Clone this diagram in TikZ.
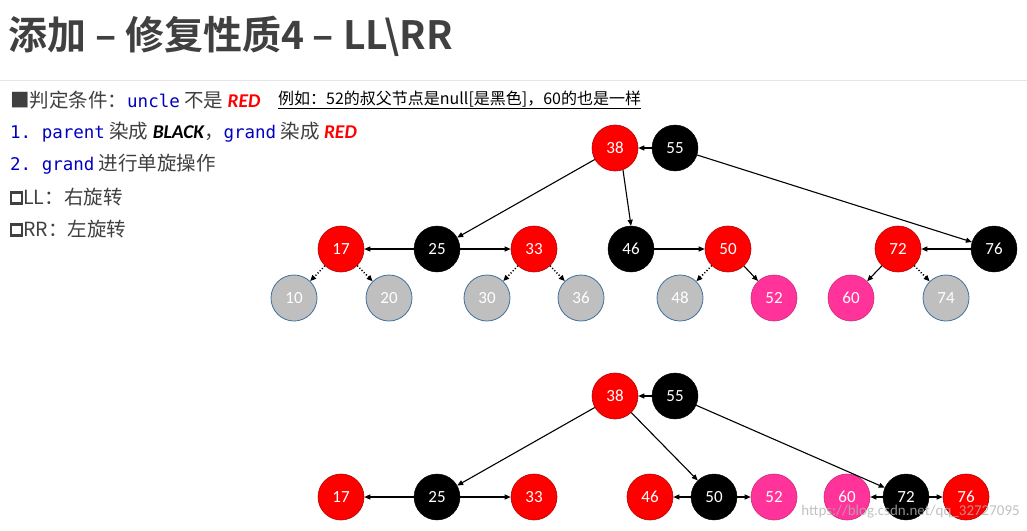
\documentclass[tikz,border=0pt]{standalone}
\usepackage{fontspec}
\setmainfont{Carlito}
\newfontfamily\cjk{Noto Sans CJK SC}
\newfontfamily\cjkb{Noto Sans CJK SC}[BoldFont={* Bold}]
\setmonofont{DejaVu Sans Mono}
\usetikzlibrary{arrows.meta}
\definecolor{txt}{HTML}{404040}
\definecolor{codeblue}{HTML}{0000C0}
\definecolor{pinkn}{HTML}{FF3399}
\definecolor{grayn}{HTML}{BFBFBF}
\definecolor{grayb}{HTML}{41719C}
\begin{document}
\begin{tikzpicture}[x=1pt,y=-1pt,
  nd/.style={circle,minimum size=46pt,inner sep=0pt,font=\fontsize{17}{17}\selectfont,text=white},
  rn/.style={nd,fill=red,draw=red!70!black,line width=0.6pt},
  bn/.style={nd,fill=black,draw=black},
  pn/.style={nd,fill=pinkn,draw=pinkn!80!black,line width=0.6pt},
  gn/.style={nd,fill=grayn,draw=grayb,line width=0.8pt},
  ar/.style={-{Triangle[length=6pt,width=5pt]},line width=1.1pt},
  dt/.style={ar,dotted,line width=1.5pt},
  tl/.style={anchor=west,inner sep=0pt,font=\cjk\fontsize{19.5}{19.5}\selectfont,text=txt},
  cd/.style={}]
\useasboundingbox (0,0) rectangle (1027,530);
\fill[white] (0,0) rectangle (1027,530);
\draw[gray!20,line width=1pt] (0,80) -- (1027,80);
\node[anchor=west,inner sep=0pt,text=txt] (title) at (8,36) {\cjkb\bfseries\fontsize{39}{39}\selectfont 添加 – 修复性质4 – LL\textbackslash RR};
\node[tl] (l1) at (10,100) {■判定条件：\textcolor{codeblue}{\ttfamily\fontsize{17.5}{17.5}\selectfont uncle} 不是 \textcolor{red}{\fontspec{Carlito}\bfseries\itshape RED}};
\node[anchor=west,inner sep=0pt,font=\cjk\fontsize{16}{16}\selectfont] (note) at (278,100) {\underline{例如：52的叔父节点是null[是黑色]，60的也是一样}};
\node[tl] (l2) at (10,132) {\textcolor{codeblue}{\ttfamily\fontsize{17.5}{17.5}\selectfont 1. parent} 染成 \textcolor{black}{\fontspec{Carlito}\bfseries\itshape BLACK}，\textcolor{codeblue}{\ttfamily\fontsize{17.5}{17.5}\selectfont grand} 染成 \textcolor{red}{\fontspec{Carlito}\bfseries\itshape RED}};
\node[tl] (l3) at (10,164) {\textcolor{codeblue}{\ttfamily\fontsize{17.5}{17.5}\selectfont 2. grand} 进行单旋操作};
\node[tl] (l4) at (10,197) {\tikz[baseline=-1pt]\draw[txt,line width=2.2pt](0,0) rectangle (11pt,11pt);LL：右旋转};
\node[tl] (l5) at (10,229) {\tikz[baseline=-1pt]\draw[txt,line width=2.2pt](0,0) rectangle (11pt,11pt);RR：左旋转};
% top tree
\node[rn] (a38) at (615,148) {38};
\node[bn] (a55) at (675,148) {55};
\node[rn] (a17) at (341,249) {17};
\node[bn] (a25) at (437,249) {25};
\node[rn] (a33) at (534,249) {33};
\node[bn] (a46) at (631,249) {46};
\node[rn] (a50) at (728,249) {50};
\node[rn] (a72) at (898,249) {72};
\node[bn] (a76) at (994,249) {76};
\node[gn] (a10) at (294,298) {10};
\node[gn] (a20) at (389,298) {20};
\node[gn] (a30) at (487,298) {30};
\node[gn] (a36) at (581,298) {36};
\node[gn] (a48) at (680,298) {48};
\node[pn] (a52) at (774,298) {52};
\node[pn] (a60) at (851,298) {60};
\node[gn] (a74) at (946,298) {74};
\draw[ar] (a55)--(a38);
\draw[ar] (a38)--(a25);
\draw[ar] (a38.-70)--(a46.north);
\draw[ar] (a55)--(a76);
\draw[ar] (a25)--(a17);
\draw[ar] (a25)--(a33);
\draw[ar] (a46)--(a50);
\draw[ar] (a50)--(a52);
\draw[ar] (a76)--(a72);
\draw[ar] (a72)--(a60);
\draw[dt] (a17)--(a10);
\draw[dt] (a17)--(a20);
\draw[dt] (a33)--(a30);
\draw[dt] (a33)--(a36);
\draw[dt] (a50)--(a48);
\draw[dt] (a72)--(a74);
% bottom tree
\node[rn] (b38) at (615,396) {38};
\node[bn] (b55) at (675,396) {55};
\node[rn] (b17) at (341,497) {17};
\node[bn] (b25) at (437,497) {25};
\node[rn] (b33) at (534,497) {33};
\node[rn] (b46) at (650,497) {46};
\node[bn] (b50) at (714,497) {50};
\node[pn] (b52) at (774,497) {52};
\node[pn] (b60) at (847,497) {60};
\node[bn] (b72) at (906,497) {72};
\node[rn] (b76) at (966,497) {76};
\draw[ar] (b55)--(b38);
\draw[ar] (b38)--(b25);
\draw[ar] (b38)--(b50);
\draw[ar] (b55)--(b72);
\draw[ar] (b25)--(b17);
\draw[ar] (b25)--(b33);
\draw[ar] (b50)--(b46);
\draw[ar] (b50)--(b52);
\draw[ar] (b72)--(b60);
\draw[ar] (b72)--(b76);
\node[anchor=east,inner sep=0pt,font=\fontsize{15}{15}\selectfont,text=gray!60,opacity=0.8] (wm) at (1020,512) {https://blog.csdn.net/qq\_32727095};
\end{tikzpicture}
\end{document}
